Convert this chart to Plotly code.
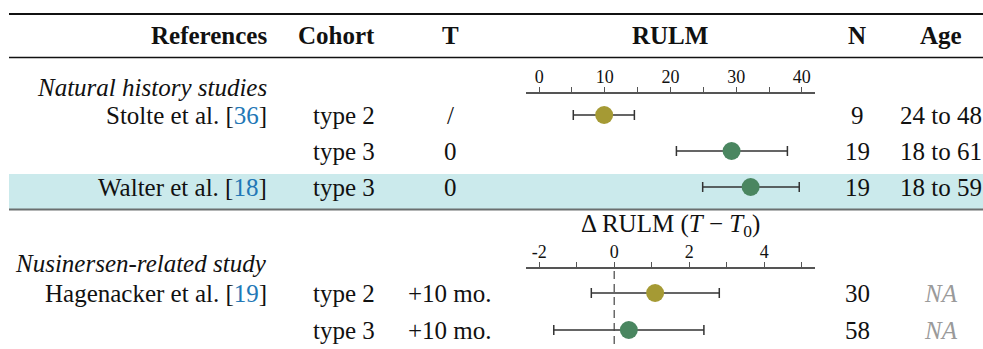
import plotly.graph_objects as go

W, H = 983, 349

# ---------------- data ----------------
columns = ["References", "Cohort", "T", "RULM", "N", "Age"]

section_top = "Natural history studies"
top_authors = ["Stolte et al.", "", "Walter et al."]
top_cites = ["36", "", "18"]
top_cohorts = ["type 2", "type 3", "type 3"]
top_T = ["/", "0", "0"]
top_rulm = [9.9, 29.3, 32.2]
top_rulm_lo = [5.2, 20.9, 24.9]
top_rulm_hi = [14.5, 37.8, 39.6]
top_N = ["9", "19", "19"]
top_age = ["24 to 48", "18 to 61", "18 to 59"]

section_bottom = "Nusinersen-related study"
bot_authors = ["Hagenacker et al.", ""]
bot_cites = ["19", ""]
bot_cohorts = ["type 2", "type 3"]
bot_T = ["+10 mo.", "+10 mo."]
bot_delta = [1.09, 0.39]
bot_delta_lo = [-0.61, -1.61]
bot_delta_hi = [2.80, 2.39]
bot_N = ["30", "58"]
bot_age = ["NA", "NA"]

top_ticks = [0, 10, 20, 30, 40]
bot_ticks = [-2, 0, 2, 4]
bot_minor = [-1, 1, 3, 5]

# ---------------- layout / style ----------------
FONT = "Liberation Serif"
FS = 25
TXT = "#111111"
CITE = "#2277b6"
GRAY_NA = "#9a9a9a"
COLORS_TOP = ["#A59A34", "#4A8660", "#4A8660"]
COLORS_BOT = ["#A59A34", "#4A8660"]

Y_HEADER = 35
Y_SEC_TOP = 87
Y_TOP = [115, 151, 187]
Y_DTITLE = 225
Y_SEC_BOT = 263
Y_BOT = [293, 330]

X_REF = 269
X_COH = 377
X_T = 450
X_PLOT = 670
X_N = 857
X_AGE = 941

AX_L, AX_R = 526, 815
AX_TOP_Y = 93
AX_BOT_Y = 268


def px(x):
    return x / W


def ann(text, x, y, anchor="center", color=TXT, size=FS):
    return dict(text=text, x=px(x), y=y, xref="paper", yref="y",
                xanchor=anchor, yanchor="middle", showarrow=False,
                font=dict(family=FONT, size=size, color=color))


def ref_text(author, cite):
    return f"{author} [<span style='color:{CITE}'>{cite}</span>]"


fig = go.Figure()

fig.add_trace(go.Scatter(
    x=top_rulm, y=Y_TOP, mode="markers", xaxis="x", yaxis="y",
    marker=dict(size=18, color=COLORS_TOP, line=dict(width=0)),
    error_x=dict(type="data", symmetric=False,
                 array=[h - v for h, v in zip(top_rulm_hi, top_rulm)],
                 arrayminus=[v - l for v, l in zip(top_rulm, top_rulm_lo)],
                 color="#333333", thickness=1.5, width=5),
    cliponaxis=False, showlegend=False, hoverinfo="x"))

fig.add_trace(go.Scatter(
    x=bot_delta, y=Y_BOT, mode="markers", xaxis="x2", yaxis="y",
    marker=dict(size=18, color=COLORS_BOT, line=dict(width=0)),
    error_x=dict(type="data", symmetric=False,
                 array=[h - v for h, v in zip(bot_delta_hi, bot_delta)],
                 arrayminus=[v - l for v, l in zip(bot_delta, bot_delta_lo)],
                 color="#333333", thickness=1.5, width=5),
    cliponaxis=False, showlegend=False, hoverinfo="x"))

annotations = []
annotations.append(ann(f"<b>{columns[0]}</b>", X_REF, Y_HEADER, "right"))
annotations.append(ann(f"<b>{columns[1]}</b>", X_COH, Y_HEADER, "right"))
annotations.append(ann(f"<b>{columns[2]}</b>", X_T, Y_HEADER))
annotations.append(ann(f"<b>{columns[3]}</b>", X_PLOT, Y_HEADER))
annotations.append(ann(f"<b>{columns[4]}</b>", X_N, Y_HEADER))
annotations.append(ann(f"<b>{columns[5]}</b>", X_AGE, Y_HEADER))

annotations.append(ann(f"<i>{section_top}</i>", X_REF, Y_SEC_TOP, "right"))
for i, y in enumerate(Y_TOP):
    if top_authors[i]:
        annotations.append(ann(ref_text(top_authors[i], top_cites[i]), X_REF, y, "right"))
    annotations.append(ann(top_cohorts[i], X_COH, y, "right"))
    annotations.append(ann(top_T[i], X_T, y))
    annotations.append(ann(top_N[i], X_N, y))
    annotations.append(ann(top_age[i], X_AGE, y))

annotations.append(ann("Δ RULM (<i>T</i> − <i>T</i><sub>0</sub>)", X_PLOT, Y_DTITLE))
annotations.append(ann(f"<i>{section_bottom}</i>", X_REF, Y_SEC_BOT, "right"))
for i, y in enumerate(Y_BOT):
    if bot_authors[i]:
        annotations.append(ann(ref_text(bot_authors[i], bot_cites[i]), X_REF, y, "right"))
    annotations.append(ann(bot_cohorts[i], X_COH, y, "right"))
    annotations.append(ann(bot_T[i], X_T, y))
    annotations.append(ann(bot_N[i], X_N, y))
    annotations.append(ann(f"<i>{bot_age[i]}</i>", X_AGE, y, color=GRAY_NA))

shapes = [
    dict(type="rect", xref="paper", yref="y", x0=px(9), x1=1, y0=174, y1=209,
         fillcolor="#CBEAEC", line=dict(width=0), layer="below"),
    dict(type="line", xref="paper", yref="y", x0=px(9), x1=1, y0=14, y1=14,
         line=dict(color="#111111", width=2)),
    dict(type="line", xref="paper", yref="y", x0=px(9), x1=1, y0=57.5, y1=57.5,
         line=dict(color="#111111", width=1.5)),
    dict(type="line", xref="paper", yref="y", x0=px(9), x1=1, y0=209.5, y1=209.5,
         line=dict(color="#6b6f6f", width=2)),
    dict(type="line", xref="x2", yref="y", x0=0, x1=0, y0=271, y1=349,
         line=dict(color="#444444", width=1.2, dash="8px,5px")),
]

axis_common = dict(
    domain=[px(AX_L), px(AX_R)], anchor="free", side="top",
    showline=True, linecolor="#555555", linewidth=1.5,
    ticks="outside", ticklen=5, tickwidth=1, tickcolor="#555555",
    showgrid=False, zeroline=False, fixedrange=True,
    ticklabelstandoff=-3,
    tickfont=dict(family=FONT, size=18, color=TXT),
)

fig.update_layout(
    width=W, height=H, margin=dict(l=0, r=0, t=0, b=0),
    paper_bgcolor="white", plot_bgcolor="rgba(0,0,0,0)",
    xaxis=dict(**axis_common, range=[-2, 42], position=1 - AX_TOP_Y / H,
               tickmode="array", tickvals=top_ticks,
               ticktext=[str(t) for t in top_ticks],
               minor=dict(dtick=5, tick0=0, ticks="outside", ticklen=5,
                          tickcolor="#555555", showgrid=False)),
    xaxis2=dict(**axis_common, range=[-2.35, 5.35], position=1 - AX_BOT_Y / H,
                overlaying="x", tickmode="array", tickvals=bot_ticks,
                ticktext=[str(t) for t in bot_ticks],
                minor=dict(tickmode="array", tickvals=bot_minor, ticks="outside",
                           ticklen=5, tickcolor="#555555", showgrid=False)),
    yaxis=dict(domain=[0, 1], range=[H, 0], visible=False, fixedrange=True),
    annotations=annotations,
    shapes=shapes,
)

fig.write_html(
    "out.html",
    config={"displayModeBar": False},
    post_script="document.body.style.margin='0';document.body.style.padding='0';"
                "document.body.style.overflow='hidden';",
)
